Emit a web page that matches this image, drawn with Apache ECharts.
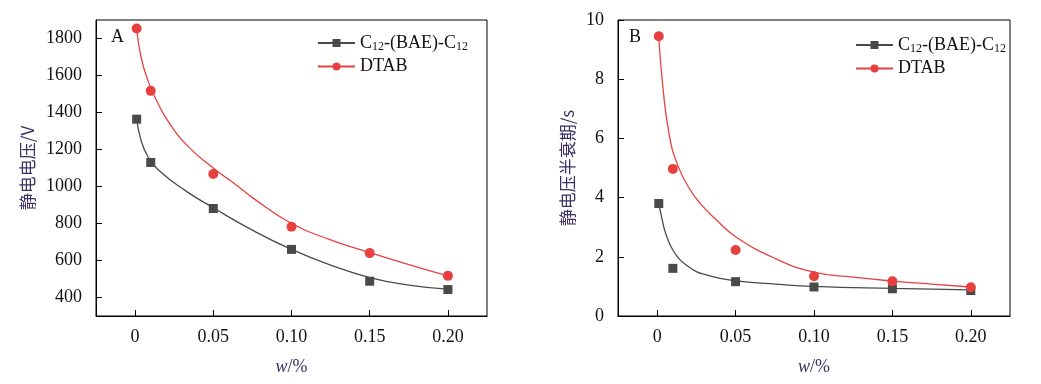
<!DOCTYPE html>
<html>
<head>
<meta charset="utf-8">
<script src="https://cdn.jsdelivr.net/npm/echarts@6/dist/echarts.min.js"></script>
<style>html,body{margin:0;padding:0;background:#fff}#c{width:1041px;height:384px}</style>
</head>
<body>
<div id="c"></div>
<script>
// ---- data ----
var xPts = [0.001, 0.01, 0.05, 0.10, 0.15, 0.20];
var voltC12 = [1364, 1130, 881, 660, 488, 443];
var voltDTAB = [1854, 1517, 1068, 782, 640, 517];
var halfC12 = [3.80, 1.61, 1.16, 0.98, 0.92, 0.86];
var halfDTAB = [9.45, 4.97, 2.23, 1.34, 1.17, 0.97];

// fitted curves
var fitVoltC12X = [0.001, 0.0038, 0.008, 0.0155, 0.0326, 0.05, 0.075, 0.10, 0.125, 0.15, 0.175, 0.20];
var fitVoltC12Y = [1364, 1250, 1165, 1085, 975, 885, 764, 660, 575, 508, 467, 445];
var fitVoltDTABX = [0.001, 0.0038, 0.0081, 0.0134, 0.022, 0.0347, 0.05, 0.0667, 0.075, 0.10, 0.125, 0.15, 0.175, 0.20];
var fitVoltDTABY = [1854, 1700, 1575, 1470, 1341, 1210, 1100, 995, 940, 800, 712, 643, 578, 517];
var fitHalfC12X = [0.001, 0.003, 0.0047, 0.0075, 0.01, 0.014, 0.0185, 0.025, 0.0313, 0.04, 0.05, 0.075, 0.10, 0.15, 0.20];
var fitHalfC12Y = [3.80, 3.30, 2.91, 2.49, 2.23, 1.93, 1.72, 1.50, 1.39, 1.27, 1.19, 1.08, 1.00, 0.93, 0.88];
var fitHalfDTABX = [0.001, 0.0036, 0.0079, 0.0132, 0.0206, 0.028, 0.0377, 0.05, 0.075, 0.10, 0.125, 0.15, 0.175, 0.20];
var fitHalfDTABY = [9.45, 7.75, 6.06, 5.08, 4.30, 3.77, 3.25, 2.68, 1.95, 1.48, 1.31, 1.18, 1.08, 0.98];

var xTicks = [0, 0.05, 0.10, 0.15, 0.20];
var xTickLabels = ['0', '0.05', '0.10', '0.15', '0.20'];
var yTicksA = [400, 600, 800, 1000, 1200, 1400, 1600, 1800];
var yTicksB = [0, 2, 4, 6, 8, 10];
var nameC12 = 'C12-(BAE)-C12';
var nameDTAB = 'DTAB';
var yNameA = '静电电压/V';
var yNameB = '静电压半衰期/s';

// ---- chart ----
var FONT = '"Liberation Serif", "Times New Roman", serif';
var GRAY = '#4a4a4a', RED = '#e8403f', NAMECOL = '#3b2f63';
function zip(a, b) { return a.map(function (v, i) { return [v, b[i]]; }); }

function xAxis(gi) {
  return {
    type: 'value', gridIndex: gi, min: -0.025, max: 0.225,
    name: '{i|w}/%', nameLocation: 'middle', nameGap: 42,
    nameTextStyle: { fontFamily: FONT, fontSize: 18, color: NAMECOL,
      rich: { i: { fontFamily: FONT, fontStyle: 'italic', fontSize: 18, color: NAMECOL } } },
    axisLine: { show: true, onZero: false, lineStyle: { color: '#000', width: 1 } },
    axisTick: { show: true, inside: true, length: 6, customValues: xTicks, lineStyle: { color: '#000' } },
    axisLabel: { customValues: xTicks, margin: 12, fontFamily: FONT, fontSize: 18, color: '#111',
      formatter: function (v) { var i = xTicks.findIndex(function (t) { return Math.abs(t - v) < 1e-9; }); return i >= 0 ? xTickLabels[i] : ''; } },
    splitLine: { show: false }
  };
}
function yAxis(gi, min, max, ticks, name, gap) {
  return {
    type: 'value', gridIndex: gi, min: min, max: max,
    name: name, nameLocation: 'middle', nameGap: gap, nameRotate: 90,
    nameTextStyle: { fontFamily: '"Noto Sans CJK SC", ' + FONT, fontSize: 17, color: NAMECOL },
    axisLine: { show: true, onZero: false, lineStyle: { color: '#000', width: 1 } },
    axisTick: { show: true, inside: true, length: 6, customValues: ticks, lineStyle: { color: '#000' } },
    axisLabel: { customValues: ticks, margin: 14, fontFamily: FONT, fontSize: 18, color: '#111',
      formatter: function (v) { return String(v); } },
    splitLine: { show: false }
  };
}
function legendFmt(n) {
  if (n === nameC12) return '{n|C}{s|12}{n|-(BAE)-C}{s|12}';
  return '{n|' + n + '}';
}
function legend(left, top, sfx) {
  return {
    orient: 'vertical', left: left, top: top, itemGap: 5, itemWidth: 37, itemHeight: 10,
    data: [nameC12 + sfx, nameDTAB + sfx],
    formatter: function (n) { return legendFmt(n.trim()); },
    textStyle: { fontFamily: FONT, fontSize: 18, color: '#111',
      rich: { n: { fontFamily: FONT, fontSize: 18, color: '#111', height: 18 },
              s: { fontFamily: FONT, fontSize: 12, color: '#111', padding: [7, 0, 0, 0] } } }
  };
}
function fitLine(name, gi, xs, ys, color, sym) {
  return { name: name, type: 'line', xAxisIndex: gi, yAxisIndex: gi, data: zip(xs, ys),
    smooth: 0.5, showSymbol: false, symbol: sym, symbolSize: 9,
    lineStyle: { color: color, width: 1.3 }, itemStyle: { color: color }, z: 2 };
}
function pts(gi, ys, color, sym) {
  return { type: 'scatter', xAxisIndex: gi, yAxisIndex: gi, data: zip(xPts, ys),
    symbol: sym, symbolSize: sym === 'rect' ? 9 : 10, itemStyle: { color: color, opacity: 1 }, z: 3 };
}

var chart = echarts.init(document.getElementById('c'), null, { renderer: 'canvas' });
chart.setOption({
  animation: false,
  backgroundColor: '#fff',
  grid: [
    { left: 96, right: 554, top: 20, bottom: 68, show: true, borderColor: '#000', borderWidth: 1 },
    { left: 618, right: 31, top: 20, bottom: 68, show: true, borderColor: '#000', borderWidth: 1 }
  ],
  xAxis: [xAxis(0), xAxis(1)],
  yAxis: [yAxis(0, 300, 1900, yTicksA, yNameA, 60), yAxis(1, 0, 10, yTicksB, yNameB, 42)],
  legend: [legend(312, 29, ''), legend(850, 31, ' ')],
  graphic: [
    { type: 'text', left: 111, top: 28, style: { text: 'A', font: '18px ' + FONT, fill: '#111' } },
    { type: 'text', left: 629, top: 28, style: { text: 'B', font: '18px ' + FONT, fill: '#111' } }
  ],
  series: [
    fitLine(nameC12, 0, fitVoltC12X, fitVoltC12Y, GRAY, 'rect'),
    fitLine(nameDTAB, 0, fitVoltDTABX, fitVoltDTABY, RED, 'circle'),
    pts(0, voltC12, GRAY, 'rect'),
    pts(0, voltDTAB, RED, 'circle'),
    fitLine(nameC12 + ' ', 1, fitHalfC12X, fitHalfC12Y, GRAY, 'rect'),
    fitLine(nameDTAB + ' ', 1, fitHalfDTABX, fitHalfDTABY, RED, 'circle'),
    pts(1, halfC12, GRAY, 'rect'),
    pts(1, halfDTAB, RED, 'circle')
  ]
});
</script>
</body>
</html>
